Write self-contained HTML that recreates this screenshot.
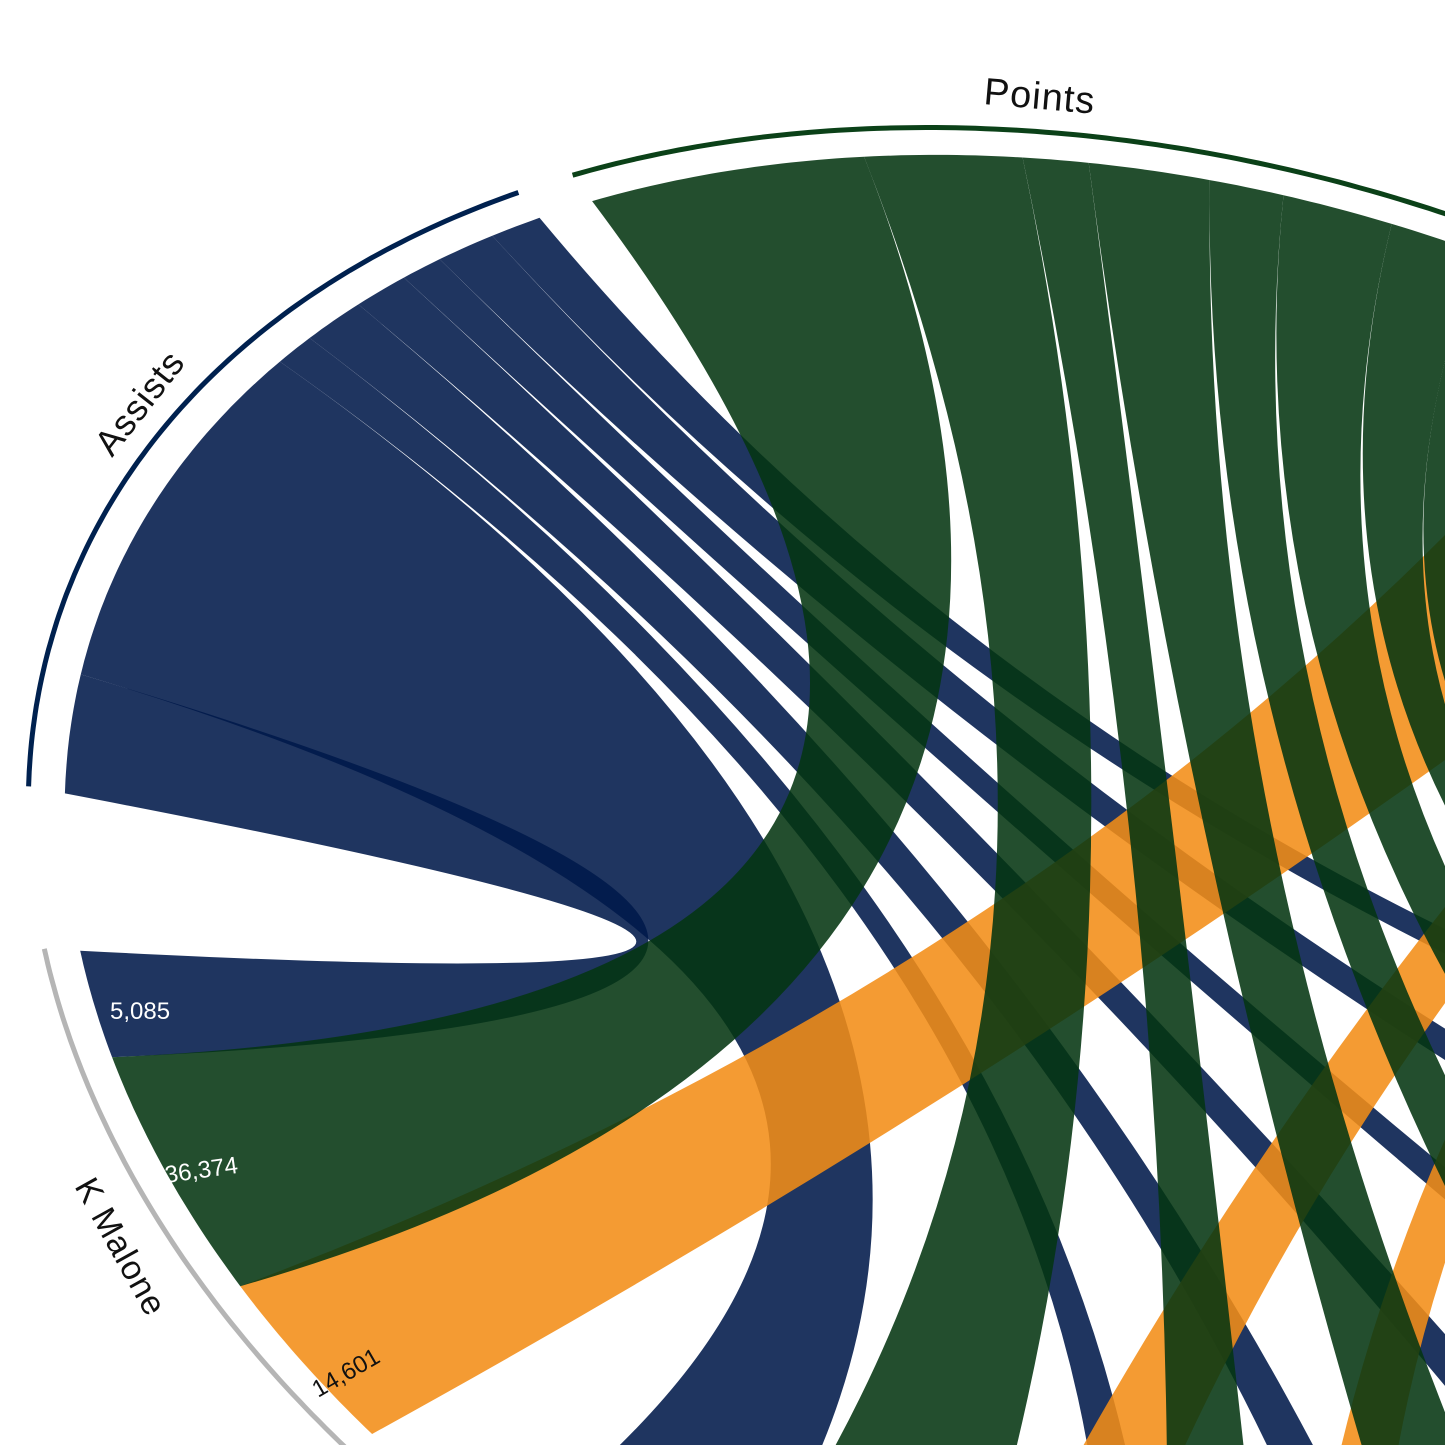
<!DOCTYPE html>
<html><head><meta charset="utf-8">
<style>
html,body{margin:0;padding:0;background:#fff;overflow:hidden;width:1445px;height:1445px;}
svg{display:block;overflow:hidden;font-family:"Liberation Sans",sans-serif;}
</style></head>
<body>
<svg id="chart" width="1445" height="1445" viewBox="0 0 1445 1445" xmlns="http://www.w3.org/2000/svg">
  <defs><clipPath id="frame"><rect x="0" y="0" width="1445" height="1445"/></clipPath></defs>
  <rect width="1445" height="1445" fill="#fff"/>
  <g clip-path="url(#frame)">
    <g id="ribbons"></g>
    <g id="arcs"></g>
  </g>
  <text x="0" y="0" transform="translate(983,104) rotate(5)" font-size="38" fill="#111" letter-spacing="1">Points</text>
  <text x="0" y="0" transform="translate(112,458) rotate(-52)" font-size="36" fill="#111" letter-spacing="1">Assists</text>
  <text x="0" y="0" transform="translate(74,1186) rotate(61)" font-size="34" fill="#111" letter-spacing="1">K Malone</text>
  <text x="110" y="1019" font-size="24" fill="#fff">5,085</text>
  <text x="0" y="0" transform="translate(166,1183) rotate(-8)" font-size="24" fill="#fff">36,374</text>
  <text x="0" y="0" transform="translate(318,1398) rotate(-30)" font-size="24" fill="#111">14,601</text>
</svg>
<script>
// ---- data ----
const players = ['K Malone','J Stockton','A Dantley','D Griffith','D Mitchell','M Eaton','G Hayward','A Kirilenko'];
const assistsVals = [5085, 15806, 1500, 2300, 2000, 1500, 2100, 1800];
const pointsVals = [36374, 19711, 8065, 14660, 8940, 13200, 10700, 8500];
const reboundsVals = [14601, 4051, 3000, 5000, 4000, 6000, 3500, 4500];
const statNames = ['Assists', 'Points', 'Rebounds'];

// ---- layout (geometry, not data) ----
const CX = 1200, CY = 1010, RX = 1170, RY = 807, ROT = 19.5 * Math.PI / 180;
const statRange = { Assists: [167.5, 220.7], Points: [223.9, 274], Rebounds: [279, 318] };
const statBend = { Assists: 1, Points: 1, Rebounds: 0.72 };
const statColor = { Assists: '#00194a', Points: '#043511', Rebounds: '#f28d17' };
const arcColor = { Assists: '#00214f', Points: '#0b4118', Rebounds: '#e8901f' };
const playerEnd = 156.8, degPerW = 0.235, gap = 2.5, firstGap = 9, playersFloor = -25;

function P(deg, s) {
  const t = deg * Math.PI / 180;
  const lx = RX * s * Math.cos(t), ly = RY * s * Math.sin(t);
  return [CX + lx * Math.cos(ROT) - ly * Math.sin(ROT), CY + lx * Math.sin(ROT) + ly * Math.cos(ROT)];
}
function arcPts(a0, a1, s) {
  const n = Math.max(2, Math.ceil(Math.abs(a1 - a0) * 2));
  const out = [];
  for (let i = 0; i <= n; i++) out.push(P(a0 + (a1 - a0) * i / n, s));
  return out;
}
const f = p => p[0].toFixed(1) + ',' + p[1].toFixed(1);
function ctrl(a, b, k) {
  const mx = (a[0] + b[0]) / 2, my = (a[1] + b[1]) / 2;
  return [mx + (CX - mx) * k, my + (CY - my) * k];
}

const valsByStat = { Assists: assistsVals, Points: pointsVals, Rebounds: reboundsVals };

const statSub = {};
statNames.forEach(s => {
  const v = valsByStat[s], tot = v.reduce((a, b) => a + b, 0);
  const [a0, a1] = statRange[s];
  let acc = a0; statSub[s] = [];
  v.forEach(x => { const w = (a1 - a0) * x / tot; statSub[s].push([acc, acc + w]); acc += w; });
});

const weights = players.map((_, i) => [reboundsVals[i], pointsVals[i], assistsVals[i]].map(x => Math.pow(x, 0.4)));
const wsum = weights.map(w => w[0] + w[1] + w[2]);
const pRange = [];
let end = playerEnd;
for (let i = 0; i < 2; i++) { const sp = wsum[i] * degPerW; pRange.push([end - sp, end]); end = end - sp - (i === 0 ? firstGap : gap); }
const restW = wsum.slice(2).reduce((a, b) => a + b, 0);
const restScale = (end - playersFloor - gap * (players.length - 3)) / restW;
for (let i = 2; i < players.length; i++) { const sp = wsum[i] * restScale; pRange.push([end - sp, end]); end = end - sp - gap; }

const playerSub = players.map((_, i) => {
  const [a0, a1] = pRange[i], w = weights[i], tot = wsum[i];
  const r = [a0, a0 + (a1 - a0) * w[0] / tot];
  const p = [r[1], r[1] + (a1 - a0) * w[1] / tot];
  const a = [p[1], a1];
  return { Rebounds: r, Points: p, Assists: a };
});

const NS = 'http://www.w3.org/2000/svg';
const ribG = document.getElementById('ribbons');
['Assists', 'Rebounds', 'Points'].forEach(s => {
  players.forEach((pl, i) => {
    const src = playerSub[i][s], tgt = statSub[s][i];
    const sa = arcPts(src[0], src[1], 1), ta = arcPts(tgt[0], tgt[1], 1);
    const k = statBend[s];
    const c1 = ctrl(sa[sa.length - 1], ta[0], k);
    const c2 = ctrl(ta[ta.length - 1], sa[0], k);
    let d = 'M' + f(sa[0]);
    sa.slice(1).forEach(p => d += 'L' + f(p));
    d += 'Q' + f(c1) + ' ' + f(ta[0]);
    ta.slice(1).forEach(p => d += 'L' + f(p));
    d += 'Q' + f(c2) + ' ' + f(sa[0]) + 'Z';
    const path = document.createElementNS(NS, 'path');
    path.setAttribute('d', d);
    path.setAttribute('fill', statColor[s]);
    path.setAttribute('fill-opacity', '0.88');
    
    
    ribG.appendChild(path);
  });
});

const arcG = document.getElementById('arcs');
function drawArc(a0, a1, color, name) {
  const pts = arcPts(a0, a1, 1.032);
  const pl = document.createElementNS(NS, 'polyline');
  pl.setAttribute('points', pts.map(f).join(' '));
  pl.setAttribute('fill', 'none');
  pl.setAttribute('stroke', color);
  pl.setAttribute('stroke-width', '5');
  
  
  arcG.appendChild(pl);
}
statNames.forEach(s => drawArc(statRange[s][0], statRange[s][1], arcColor[s], s.toLowerCase() + '-arc'));
players.forEach((p, i) => drawArc(pRange[i][0], pRange[i][1], '#b5b5b5', p.toLowerCase().replace(/\s+/g, '-') + '-arc'));
</script>
</body></html>
